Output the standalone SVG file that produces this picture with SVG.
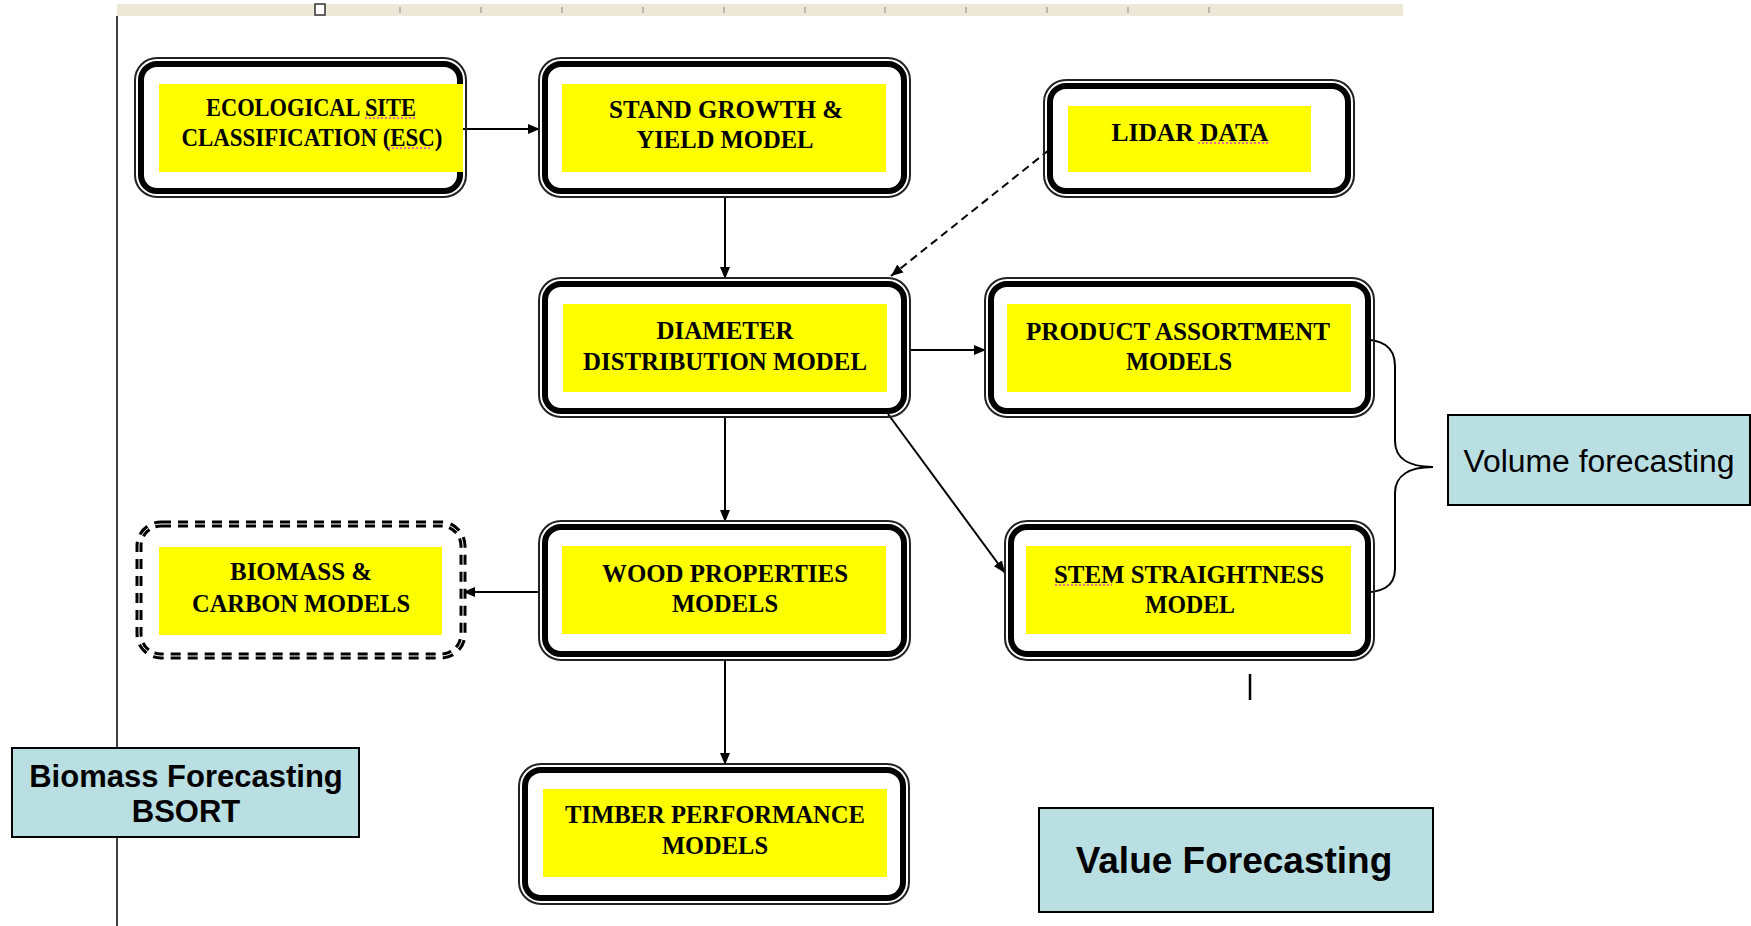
<svg xmlns="http://www.w3.org/2000/svg" width="1751" height="926" viewBox="0 0 1751 926">
<style>
.o{fill:none;stroke:#222;stroke-width:2}
.i{fill:#fff;stroke:#000;stroke-width:6}
.y{fill:#ffff00}
.t{font-family:"Liberation Serif","Times New Roman",serif;font-weight:bold;font-size:26px;fill:#000;text-anchor:middle}
.c{stroke:#000;stroke-width:2;fill:none}
.lb{fill:#b9dfe3;stroke:#000;stroke-width:2}
.s{font-family:"Liberation Sans",Arial,sans-serif;fill:#000;text-anchor:middle}
.sp{stroke:#e040c0;stroke-width:1.5;stroke-dasharray:2 2;fill:none}
.tk{stroke:#888;stroke-width:1}
</style>
<defs>
<marker id="ah" markerUnits="userSpaceOnUse" markerWidth="14" markerHeight="12" refX="12" refY="6" orient="auto">
<path d="M0,1 L12,6 L0,11 Z" fill="#000"/>
</marker>
</defs>
<rect width="1751" height="926" fill="#fff"/>
<g id="ruler">
<rect x="117" y="4" width="1286" height="12" fill="#ece9d8"/>
<line class="tk" x1="400" y1="7" x2="400" y2="13"/>
<line class="tk" x1="481" y1="7" x2="481" y2="13"/>
<line class="tk" x1="562" y1="7" x2="562" y2="13"/>
<line class="tk" x1="643" y1="7" x2="643" y2="13"/>
<line class="tk" x1="724" y1="7" x2="724" y2="13"/>
<line class="tk" x1="805" y1="7" x2="805" y2="13"/>
<line class="tk" x1="885" y1="7" x2="885" y2="13"/>
<line class="tk" x1="966" y1="7" x2="966" y2="13"/>
<line class="tk" x1="1047" y1="7" x2="1047" y2="13"/>
<line class="tk" x1="1128" y1="7" x2="1128" y2="13"/>
<line class="tk" x1="1209" y1="7" x2="1209" y2="13"/>
<rect x="315" y="4" width="10" height="11" fill="#fff" stroke="#333" stroke-width="1.5"/>
</g>
<line x1="117" y1="16" x2="117" y2="926" stroke="#000" stroke-width="1.5"/>
<line x1="1250" y1="674" x2="1250" y2="700" stroke="#000" stroke-width="2.5"/>

<g id="connectors">
<line class="c" x1="463" y1="129" x2="540" y2="129" marker-end="url(#ah)"/>
<line class="c" x1="725" y1="198" x2="725" y2="279" marker-end="url(#ah)"/>
<line class="c" x1="1049" y1="150" x2="891" y2="276" stroke-dasharray="8 5" marker-end="url(#ah)"/>
<line class="c" x1="910" y1="350" x2="986" y2="350" marker-end="url(#ah)"/>
<line class="c" x1="888" y1="414" x2="1005" y2="573" marker-end="url(#ah)"/>
<line class="c" x1="725" y1="418" x2="725" y2="522" marker-end="url(#ah)"/>
<line class="c" x1="540" y1="592" x2="463" y2="592" marker-end="url(#ah)"/>
<line class="c" x1="725" y1="661" x2="725" y2="765" marker-end="url(#ah)"/>
<path class="c" d="M1357,339 C1382,339 1395,346 1395,366 L1395,441 C1395,459 1410,467 1433,467 C1410,467 1395,475 1395,493 L1395,569 C1395,587 1382,593 1357,593"/>
</g>

<g id="esc">
<rect class="o" x="135" y="58" width="331" height="139" rx="22"/>
<rect class="i" x="141" y="64" width="319" height="127" rx="16"/>
<rect class="y" x="159" y="84" width="304" height="88"/>
<text class="t" x="311" y="116" textLength="210" lengthAdjust="spacingAndGlyphs">ECOLOGICAL SITE</text>
<text class="t" x="312" y="146" textLength="261" lengthAdjust="spacingAndGlyphs">CLASSIFICATION (ESC)</text>
<line class="sp" x1="365" y1="118" x2="415" y2="118"/>
<line class="sp" x1="388" y1="148" x2="431" y2="148"/>
</g>

<g id="stand">
<rect class="o" x="539" y="58" width="371" height="139" rx="22"/>
<rect class="i" x="545" y="64" width="359" height="127" rx="16"/>
<rect class="y" x="562" y="84" width="324" height="88"/>
<text class="t" x="726" y="118" textLength="234" lengthAdjust="spacingAndGlyphs">STAND GROWTH &amp;</text>
<text class="t" x="725" y="148" textLength="177" lengthAdjust="spacingAndGlyphs">YIELD MODEL</text>
</g>

<g id="lidar">
<rect class="o" x="1044" y="80" width="310" height="117" rx="22"/>
<rect class="i" x="1050" y="86" width="298" height="105" rx="16"/>
<rect class="y" x="1068" y="106" width="243" height="66"/>
<text class="t" x="1190" y="141" textLength="157" lengthAdjust="spacingAndGlyphs">LIDAR DATA</text>
<line class="sp" x1="1198" y1="143" x2="1268" y2="143"/>
</g>

<g id="diameter">
<rect class="o" x="539" y="278" width="371" height="139" rx="22"/>
<rect class="i" x="545" y="284" width="359" height="127" rx="16"/>
<rect class="y" x="563" y="304" width="324" height="88"/>
<text class="t" x="725" y="339" textLength="137" lengthAdjust="spacingAndGlyphs">DIAMETER</text>
<text class="t" x="725" y="370" textLength="284" lengthAdjust="spacingAndGlyphs">DISTRIBUTION MODEL</text>
</g>

<g id="product">
<rect class="o" x="985" y="278" width="389" height="139" rx="22"/>
<rect class="i" x="991" y="284" width="377" height="127" rx="16"/>
<rect class="y" x="1007" y="304" width="344" height="88"/>
<text class="t" x="1178" y="340" textLength="304" lengthAdjust="spacingAndGlyphs">PRODUCT ASSORTMENT</text>
<text class="t" x="1179" y="370" textLength="106" lengthAdjust="spacingAndGlyphs">MODELS</text>
</g>

<g id="wood">
<rect class="o" x="539" y="521" width="371" height="139" rx="22"/>
<rect class="i" x="545" y="527" width="359" height="127" rx="16"/>
<rect class="y" x="562" y="546" width="324" height="88"/>
<text class="t" x="725" y="582" textLength="246" lengthAdjust="spacingAndGlyphs">WOOD PROPERTIES</text>
<text class="t" x="725" y="612" textLength="106" lengthAdjust="spacingAndGlyphs">MODELS</text>
</g>

<g id="stem">
<rect class="o" x="1005" y="521" width="369" height="139" rx="22"/>
<rect class="i" x="1011" y="527" width="357" height="127" rx="16"/>
<rect class="y" x="1026" y="546" width="325" height="88"/>
<text class="t" x="1189" y="583" textLength="270" lengthAdjust="spacingAndGlyphs">STEM STRAIGHTNESS</text>
<text class="t" x="1190" y="613" textLength="90" lengthAdjust="spacingAndGlyphs">MODEL</text>
<line class="sp" x1="1055" y1="585" x2="1112" y2="585"/>
</g>

<g id="biomass">
<rect x="139" y="524" width="324" height="132" rx="22" fill="#fff" stroke="#000" stroke-width="7" stroke-dasharray="10 7"/>
<rect x="139" y="524" width="324" height="132" rx="22" fill="none" stroke="#fff" stroke-width="1"/>
<rect class="y" x="159" y="547" width="283" height="88"/>
<text class="t" x="301" y="580" font-weight="normal" textLength="142" lengthAdjust="spacingAndGlyphs">BIOMASS &amp;</text>
<text class="t" x="301" y="612" font-weight="normal" textLength="218" lengthAdjust="spacingAndGlyphs">CARBON MODELS</text>
</g>

<g id="timber">
<rect class="o" x="519" y="764" width="390" height="140" rx="22"/>
<rect class="i" x="525" y="770" width="378" height="128" rx="16"/>
<rect class="y" x="543" y="789" width="344" height="88"/>
<text class="t" x="715" y="823" textLength="300" lengthAdjust="spacingAndGlyphs">TIMBER PERFORMANCE</text>
<text class="t" x="715" y="854" textLength="106" lengthAdjust="spacingAndGlyphs">MODELS</text>
</g>

<g id="volume">
<rect class="lb" x="1448" y="415" width="302" height="90"/>
<text class="s" x="1599" y="472" font-size="31" textLength="271" lengthAdjust="spacingAndGlyphs">Volume forecasting</text>
</g>

<g id="biomass-forecasting">
<rect class="lb" x="12" y="748" width="347" height="89"/>
<text class="s" x="186" y="787" font-size="31" font-weight="bold">Biomass Forecasting</text>
<text class="s" x="186" y="822" font-size="31" font-weight="bold">BSORT</text>
</g>

<g id="value-forecasting">
<rect class="lb" x="1039" y="808" width="394" height="104"/>
<text class="s" x="1234" y="873" font-size="37" font-weight="bold">Value Forecasting</text>
</g>
</svg>
